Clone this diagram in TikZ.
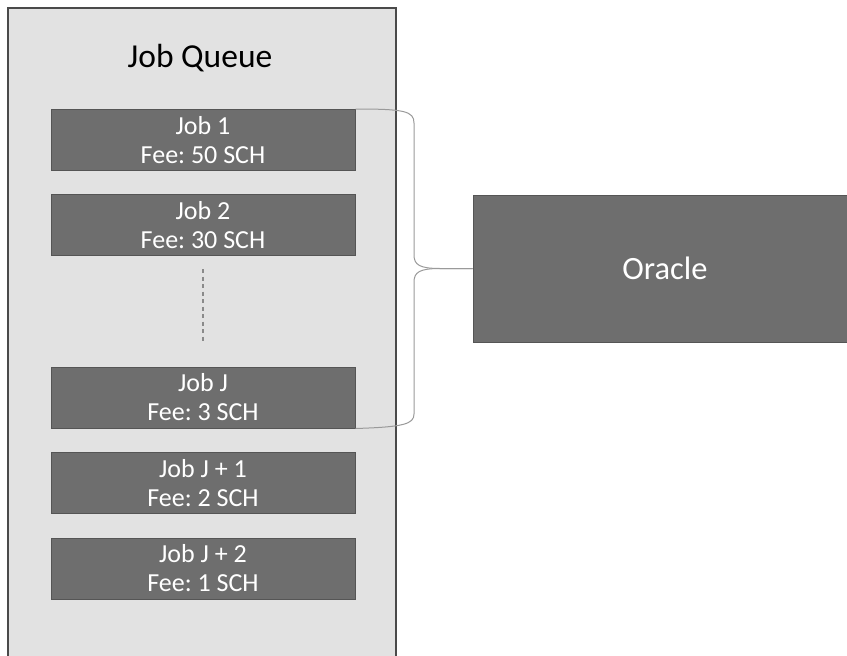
\documentclass[tikz,border=0pt]{standalone}
\usepackage{fontspec}
\setmainfont{Carlito}
\frenchspacing
\definecolor{queuefill}{HTML}{E2E2E2}
\definecolor{queueborder}{HTML}{4A4A4A}
\definecolor{boxfill}{HTML}{6E6E6E}
\definecolor{boxborder}{HTML}{555555}
\definecolor{bracecol}{HTML}{9A9A9A}
\definecolor{dashcol}{HTML}{8A8A8A}
\begin{document}
\begin{tikzpicture}[x=1pt,y=-1pt,
  queue/.style={draw=queueborder,fill=queuefill,line width=1.5pt},
  jobbox/.style={draw=boxborder,fill=boxfill,line width=1pt,minimum width=304pt,minimum height=61pt,
    inner sep=0pt,align=center,text=white,font=\fontsize{26}{29}\selectfont},
  oraclebox/.style={draw=boxborder,fill=boxfill,line width=1pt,minimum width=384pt,minimum height=147pt,
    inner sep=0pt,text=white,font=\fontsize{32.5}{36}\selectfont},
  bracepath/.style={draw=bracecol,line width=1pt},
  dots/.style={draw=dashcol,line width=1.2pt,dash pattern=on 4pt off 3.5pt}]
\useasboundingbox (0,0) rectangle (847,656);
\clip (0,0) rectangle (847,656);
\fill[white] (0,0) rectangle (847,656);
\draw[queue] (8,8) rectangle (396,680);
\node[font=\fontsize{33.5}{38}\selectfont] (title) at (200,58) {Job Queue};
\node[jobbox] (j1) at (203,140) {Job 1\\Fee: 50 SCH};
\node[jobbox] (j2) at (203,225) {Job 2\\Fee: 30 SCH};
\node[jobbox] (jJ) at (203,397.5) {Job J\\Fee: 3 SCH};
\node[jobbox] (jJ1) at (203,483) {Job J + 1\\Fee: 2 SCH};
\node[jobbox] (jJ2) at (203,568.5) {Job J + 2\\Fee: 1 SCH};
\node[oraclebox] (oracle) at (665,268.5) {Oracle};
\draw[dots,shorten <=13pt,shorten >=25pt] (j2.south) -- (jJ.north);
\draw[bracepath] (j1.north east) .. controls (404,109) and (414,111) .. (414,123)
  -- (414,255) .. controls (414,265) and (420,268.5) .. (440,268.5) -- (oracle.west);
\draw[bracepath] (oracle.west) -- (440,268.5) .. controls (420,268.5) and (414,272) .. (414,282)
  -- (414,414) .. controls (414,424) and (404,427) .. (jJ.south east);
\end{tikzpicture}
\end{document}
